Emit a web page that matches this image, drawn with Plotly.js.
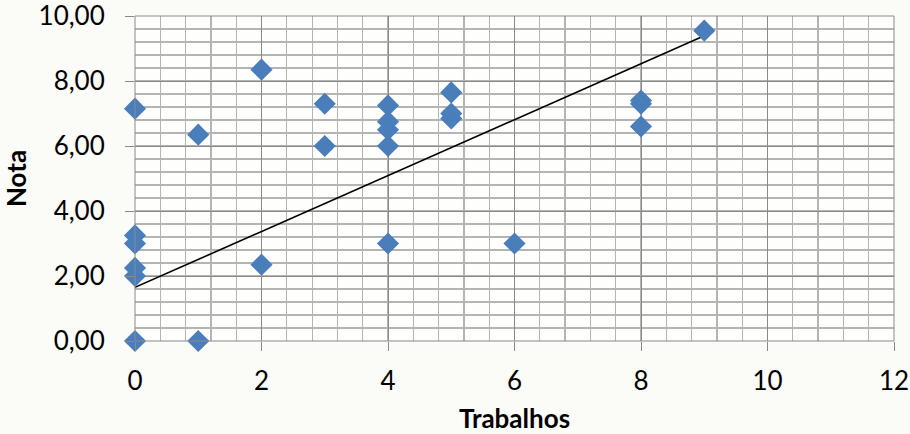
<!DOCTYPE html>
<html>
<head>
<meta charset="utf-8">
<script src="https://cdn.plot.ly/plotly-3.0.1.min.js"></script>
<style>
  html, body { margin: 0; padding: 0; background: #fbfbf8; }
  #chart { width: 910px; height: 434px; }
</style>
</head>
<body>
<div id="chart"></div>
<script>
// Data
const trabalhos = [0, 0, 0, 0, 0, 0, 1, 1, 2, 2, 3, 3, 4, 4, 4, 4, 4, 5, 5, 5, 6, 8, 8, 8, 9];
const nota      = [7.15, 3.25, 3.0, 2.25, 2.0, 0, 6.35, 0, 8.35, 2.35, 7.3, 6.0, 7.25, 6.75, 6.5, 6.0, 3.0, 7.65, 7.0, 6.85, 3.0, 7.4, 7.3, 6.6, 9.55];
// Trendline end points as drawn in the reference
const trendX = [0, 9];
const trendY = [1.65, 9.39];
const xTickVals = [0, 2, 4, 6, 8, 10, 12];
const xTickText = ["0", "2", "4", "6", "8", "10", "12"];
const yTickVals = [0, 2, 4, 6, 8, 10];
const yTickText = ["0,00", "2,00", "4,00", "6,00", "8,00", "10,00"];

const font = "Lato, 'Open Sans', sans-serif";

const traces = [
  {
    x: trendX, y: trendY, type: "scatter", mode: "lines",
    line: { color: "#000000", width: 1.6 },
    hoverinfo: "skip", showlegend: false, cliponaxis: false
  },
  {
    x: trabalhos, y: nota, type: "scatter", mode: "markers",
    marker: { symbol: "diamond", size: 17, color: "#4A7EBB", line: { width: 0 } },
    showlegend: false, cliponaxis: false
  }
];

const layout = {
  width: 910, height: 434,
  margin: { l: 135, r: 16, t: 16, b: 93 },
  paper_bgcolor: "#fbfbf8",
  plot_bgcolor: "#fefefc",
  showlegend: false,
  font: { family: font, color: "#000000" },
  xaxis: {
    range: [0, 12], tickmode: "array", tickvals: xTickVals, ticktext: xTickText,
    showgrid: true, gridcolor: "#8a8a8a", gridwidth: 1,
    zeroline: false, showline: false,
    ticks: "outside", ticklen: 9, tickcolor: "#8a8a8a", tickwidth: 1,
    ticklabelstandoff: 8, ticklabeloverflow: "allow",
    tickfont: { family: font, size: 26, color: "#000000" },
    minor: { dtick: 0.4, tick0: 0, showgrid: true, gridcolor: "#b4b4b4", gridwidth: 1.2, ticks: "" },
    title: { text: "<b>Trabalhos</b>", font: { family: font, size: 26, color: "#000000" }, standoff: 14 },
    fixedrange: true
  },
  yaxis: {
    range: [0, 10], tickmode: "array", tickvals: yTickVals, ticktext: yTickText,
    showgrid: true, gridcolor: "#8a8a8a", gridwidth: 1,
    zeroline: false, showline: false,
    ticks: "outside", ticklen: 9, tickcolor: "#8a8a8a", tickwidth: 1,
    ticklabelstandoff: 15, ticklabeloverflow: "allow",
    tickfont: { family: font, size: 26, color: "#000000" },
    minor: { dtick: 0.4, tick0: 0, showgrid: true, gridcolor: "#b4b4b4", gridwidth: 1.2, ticks: "" },
    title: { text: "<b>Nota</b>", font: { family: font, size: 26, color: "#000000" }, standoff: 8 },
    fixedrange: true
  },
  shapes: [
    { type: "rect", xref: "paper", yref: "paper", x0: 0, x1: 1, y0: 0, y1: 1,
      line: { color: "#8a8a8a", width: 1 }, fillcolor: "rgba(0,0,0,0)", layer: "above" }
  ]
};

Plotly.newPlot("chart", traces, layout, { staticPlot: true, displayModeBar: false });
</script>
</body>
</html>
